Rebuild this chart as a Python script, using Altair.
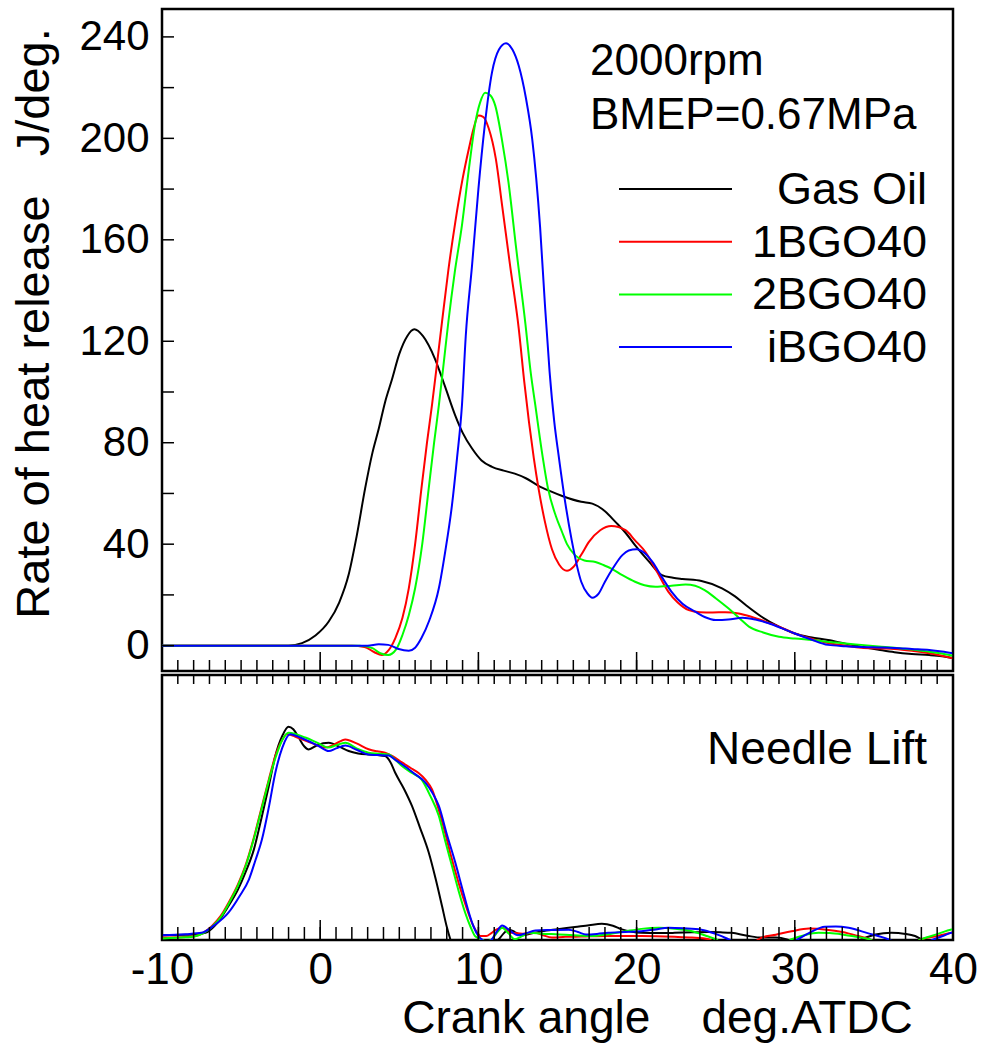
import altair as alt
import pandas as pd

# ---------------- data ----------------
series = ["Gas Oil", "1BGO40", "2BGO40", "iBGO40"]
colors = ["#000000", "#ff0000", "#00ff00", "#0000ff"]

# Rate of heat release (J/deg.) vs crank angle
hrr_gas_x = [-10, -4, -2.0, -1.15, -0.3, 0.54, 1.2, 1.8, 2.3, 2.84, 3.3, 3.7, 4.1, 4.54, 5.0, 5.5, 5.95, 6.5, 7.26, 7.9, 8.52, 9.0, 9.6, 10.2, 10.86, 11.6, 12.3, 13.0, 13.8, 14.5, 15.3, 16.5, 17.2, 18.0, 18.66, 19.3, 19.9, 20.8, 21.6, 22.3, 22.9, 24.1, 25.4, 26.2, 26.9, 27.9, 29.0, 30.0, 31.0, 32.1, 33.2, 34.2, 35.3, 36.3, 37.4, 38.5, 39.3, 40]
hrr_gas_y = [0, 0, 0, 1, 4, 9.5, 17, 28, 43, 62, 76, 85.5, 96, 105, 115, 122, 124.7, 122, 113, 102, 91, 84, 77.7, 73, 70.5, 69, 67.8, 66, 63, 61, 59, 56.7, 56, 53, 48.8, 44.5, 39.6, 33, 27.8, 26.8, 26.3, 25.5, 22.6, 19.5, 16, 11.4, 7.5, 4.8, 3.3, 2.2, 0.8, -0.4, -1.6, -2.6, -3.3, -3.7, -4.2, -5]

hrr_1b_x = [-10, 2.0, 2.8, 3.4, 3.9, 4.3, 4.75, 5.2, 5.6, 6.0, 6.4, 6.75, 7.07, 7.4, 7.7, 8.1, 8.54, 9.0, 9.4, 9.7, 10.0, 10.3, 10.65, 11.1, 11.5, 12.0, 12.55, 12.9, 13.2, 13.5, 13.8, 14.2, 14.65, 15.1, 15.6, 16.0, 16.5, 17.0, 17.7, 18.4, 19.3, 19.9, 20.55, 21.3, 22.0, 22.6, 23.3, 24.0, 24.8, 25.6, 26.45, 27.2, 27.9, 29.0, 30.0, 31.0, 32.1, 33.2, 34.2, 35.3, 36.3, 37.4, 38.5, 39.3, 40]
hrr_1b_y = [0, 0, -0.5, -2.5, -3.7, -2, 3, 11, 22.6, 40, 62, 80, 95, 112, 127.6, 148, 167, 184, 196, 204, 209, 208.5, 204, 192, 173.5, 150, 125, 104, 88, 74, 62, 49, 38, 32, 29.5, 31, 35.8, 41, 45.5, 47.2, 45.5, 41.5, 37, 29, 21.3, 17, 14, 13.2, 13.1, 13.2, 12.7, 11.5, 10, 7.5, 4.8, 2.8, 1, 0, -0.8, -1.1, -1.3, -2, -3, -4, -5]

hrr_2b_x = [-10, 2.5, 3.3, 3.8, 4.3, 4.8, 5.2, 5.6, 6.0, 6.45, 6.86, 7.2, 7.5, 7.8, 8.1, 8.5, 8.96, 9.4, 9.8, 10.1, 10.43, 10.75, 11.07, 11.5, 11.9, 12.4, 12.97, 13.3, 13.6, 14.0, 14.4, 14.9, 15.28, 15.6, 16.1, 16.7, 17.4, 18.0, 18.4, 19.1, 19.9, 20.5, 21.2, 22.2, 23.1, 23.7, 24.3, 25.0, 25.8, 26.5, 27.1, 28.0, 29.0, 30.0, 31.1, 32.6, 34.2, 35.3, 36.3, 37.4, 38.5, 39.3, 40]
hrr_2b_y = [0, 0, -1, -3, -3.7, -1.5, 4.2, 12, 22.6, 40, 62, 80, 94.7, 111, 127.6, 147, 165.7, 188, 206, 214, 218, 217, 212.8, 199, 182.7, 156, 127, 108, 94.7, 77, 62, 51, 44.9, 40, 35.7, 33.6, 33, 31.5, 30.4, 27.8, 25.2, 23.8, 23.2, 23.6, 24.1, 23.6, 21.9, 18.7, 14.7, 10.8, 7.5, 5.2, 3.5, 2.8, 2.2, 1.2, 0.3, -0.3, -0.8, -1.5, -2.4, -3.1, -4]

hrr_ib_x = [-10, 3.0, 3.7, 4.3, 4.9, 5.6, 6.0, 6.4, 6.9, 7.5, 7.9, 8.33, 8.65, 8.96, 9.2, 9.6, 10.0, 10.4, 10.86, 11.3, 11.75, 12.15, 12.55, 13.0, 13.4, 13.9, 14.2, 14.5, 14.8, 15.07, 15.5, 15.9, 16.5, 16.9, 17.2, 17.6, 18.0, 18.5, 19.1, 19.5, 20.0, 20.5, 21.0, 21.6, 22.2, 22.9, 23.7, 24.3, 25.0, 25.8, 26.7, 27.5, 28.35, 29.2, 30.0, 31.0, 32.1, 33.2, 34.2, 35.3, 36.3, 37.4, 38.5, 39.3, 40]
hrr_ib_y = [0, 0, 0.5, 0.3, -1.2, -2, -0.8, 3, 10, 22.6, 37, 55.4, 74, 94.7, 122, 150, 180, 205, 226, 235, 237.5, 235, 228.6, 216, 199.8, 165, 135, 108, 88, 75, 56, 41.5, 25.2, 20.5, 18.9, 20.5, 25.2, 30.5, 35.7, 37.5, 38, 36.5, 33, 27, 21.3, 16.5, 13.4, 11.3, 10.1, 10.3, 11, 10.3, 8.8, 6.8, 4.8, 2.5, 0.3, -0.2, -0.5, -0.7, -0.9, -1.3, -1.7, -2.3, -3]

# Needle lift (arbitrary units, 0..100 panel)
nl_gas_x = [-10, -8.5, -7.9, -7.26, -6.5, -5.8, -5.2, -4.73, -4.2, -3.68, -3.25, -2.84, -2.4, -2.0, -1.7, -1.36, -1.0, -0.73, -0.2, 0.54, 1.2, 1.8, 2.4, 3.06, 3.6, 4.1, 4.45, 4.75, 5.3, 5.8, 6.3, 6.86, 7.3, 7.7, 8.0, 8.23, 8.6, 10.5, 11.0, 11.28, 11.6, 11.9, 12.3, 12.75, 13.4, 14.0, 15.0, 16.1, 17.0, 17.8, 18.5, 19.07, 19.7, 20.3, 21.4, 22.4, 23.5, 24.5, 25.3, 26.0, 27.0, 27.9, 28.8, 29.5, 30.0, 33.5, 34.3, 35.1, 36.1, 37.0, 37.6, 38.0, 38.5, 40]
nl_gas_y = [1.8, 2, 2.1, 2.7, 6.5, 12.8, 19, 25.4, 34, 46.8, 58, 69.4, 77, 80.5, 79.5, 76.4, 73, 71.9, 73.5, 74.4, 73, 71.3, 70.4, 70, 69.8, 69.4, 67, 63, 57, 50.6, 42.5, 33, 23, 12.8, 5, 0.2, -5, -5, -1, 0.25, 2.5, 4.0, 3, 1.8, 2.5, 3.3, 4.1, 4.9, 5.6, 6.1, 5.4, 4, 3.1, 2.7, 2.6, 2.7, 2.9, 3.0, 2.9, 2.7, 1.6, 0.9, 0.9, 0.2, -1, -1, 0.5, 2.1, 2.7, 2.3, 1.5, 0.3, -1, -1]

nl_1b_x = [-10, -8.5, -7.9, -6.84, -6.3, -5.8, -5.2, -4.73, -4.2, -3.68, -3.25, -2.84, -2.4, -2.1, -1.6, -1.15, -0.4, 0.32, 0.9, 1.59, 2.3, 3.06, 3.6, 4.1, 4.6, 5.17, 5.7, 6.22, 6.65, 7.07, 7.5, 7.9, 8.3, 8.75, 9.2, 9.6, 10.0, 10.12, 10.5, 10.8, 11.1, 11.5, 12.1, 12.8, 13.6, 14.0, 14.65, 15.5, 16.5, 18.2, 20.3, 22.4, 23.5, 24.55, 25.0, 27.3, 27.9, 28.8, 29.8, 30.9, 32.0, 33.0, 34.0, 34.7, 35.2, 37.5, 38.0, 39.0, 39.9, 40]
nl_1b_y = [0.9, 1.1, 1.5, 5.3, 9, 14, 21, 28, 38.5, 50.6, 60.5, 69.4, 75.5, 77.6, 76.8, 75.7, 74, 72.6, 73.8, 75.7, 74.2, 72, 71.2, 70.7, 69.3, 67, 65, 63, 60.5, 56.8, 49, 40.4, 31, 21.5, 13, 6.4, 2.2, 1.5, 1.5, 2.5, 3.8, 4.6, 2.7, 2.4, 2.7, 2.0, 0.9, 1.2, 1.3, 1.5, 1.5, 1.2, 0.9, 0.3, -1, -1, 0.9, 2.0, 3.3, 4.3, 3.9, 3.0, 1.5, 0.3, -1, -1, 0.3, 1.5, 2.7, 2.8]

nl_2b_x = [-10, -8.5, -7.9, -6.84, -6.3, -5.8, -5.2, -4.73, -4.2, -3.68, -3.25, -2.84, -2.4, -2.0, -1.5, -0.94, -0.2, 0.54, 1.0, 1.59, 2.3, 3.06, 3.7, 4.33, 4.75, 5.17, 5.8, 6.4, 6.95, 7.5, 7.9, 8.33, 8.75, 9.17, 9.5, 9.8, 10.2, 10.5, 10.86, 11.2, 11.5, 11.9, 12.3, 12.8, 13.2, 14.0, 15.1, 16.0, 17.2, 18.2, 19.3, 20.3, 21.4, 22.4, 23.5, 24.3, 25.0, 25.4, 29.4, 29.8, 30.6, 31.5, 32.2, 33.0, 34.0, 34.7, 35.2, 37.5, 38.0, 39.0, 39.9, 40]
nl_2b_y = [0.6, 1.0, 1.4, 5.0, 8.5, 13.5, 20.5, 27.5, 38, 50, 60, 68.5, 75.5, 78.2, 77.6, 76.4, 74.5, 72.6, 73.5, 74.4, 72.3, 70.7, 70.3, 70, 68, 65.7, 63, 60.6, 54.5, 46.8, 37.5, 27.9, 18.5, 10.2, 5, 1.4, 0.2, -0.5, 0.3, 3, 4.6, 2.5, 0.3, 1.6, 2.7, 2.4, 2.1, 1.8, 1.5, 2.2, 3.3, 4.2, 4.6, 4.2, 3.3, 1.8, 0.3, -1, -1, 0.3, 1.8, 2.7, 2.6, 2.1, 1.1, 0.3, -1, -1, 0.3, 2.2, 4, 4.1]

nl_ib_x = [-10, -8.5, -7.5, -6.7, -5.8, -5.1, -4.5, -4.1, -3.68, -3.25, -2.84, -2.4, -1.9, -1.3, -0.73, -0.1, 0.54, 1.0, 1.59, 2.3, 3.06, 3.7, 4.33, 4.75, 5.17, 5.9, 6.65, 7.1, 7.5, 8.0, 8.54, 9.0, 9.4, 9.7, 10.0, 10.2, 10.5, 10.86, 11.2, 11.5, 12.0, 12.5, 13.0, 13.6, 14.6, 15.7, 16.3, 16.8, 17.5, 18.2, 19.3, 20.3, 21.2, 22.0, 23.0, 24.1, 25.0, 25.8, 26.3, 29.7, 30.2, 31.0, 31.9, 32.6, 33.4, 34.6, 35.9, 36.4, 38.3, 38.8, 39.4, 39.9, 40]
nl_ib_y = [1.8, 2.2, 2.7, 5.5, 10.3, 16.5, 22.9, 30, 38, 50, 63, 72.5, 77.6, 76.5, 75, 73.2, 71.3, 72.3, 73.4, 71.8, 70, 69.8, 69.6, 68, 66.3, 63, 59.4, 55.5, 50.6, 40, 29.2, 19, 10.3, 5, 1.5, 0.3, -1, 0.3, 3.5, 5.5, 3.5, 1.8, 2.5, 3.6, 3.8, 3.9, 3.0, 2.1, 2.3, 2.7, 3.0, 3.3, 4.0, 4.6, 4.4, 3.9, 2.3, 0.3, -1, -1, 0.3, 3.0, 5.0, 5.1, 4.6, 2.6, 0.3, -1, -1, 0.3, 1.6, 2.7, 2.8]

x_labels = [-10, 0, 10, 20, 30, 40]
x_minor = list(range(-10, 41))
y_labels = [0, 40, 80, 120, 160, 200, 240]
y_minor = [0, 20, 40, 60, 80, 100, 120, 140, 160, 180, 200, 220, 240]

# ---------------- tables ----------------
def table(pairs):
    frames = []
    for i, (xs, ys) in enumerate(pairs):
        frames.append(pd.DataFrame({"angle": xs, "value": ys, "fuel": series[i], "order": i}))
    return pd.concat(frames, ignore_index=True)

hrr = table([(hrr_gas_x, hrr_gas_y), (hrr_1b_x, hrr_1b_y), (hrr_2b_x, hrr_2b_y), (hrr_ib_x, hrr_ib_y)])
nl = table([(nl_gas_x, nl_gas_y), (nl_1b_x, nl_1b_y), (nl_2b_x, nl_2b_y), (nl_ib_x, nl_ib_y)])

FONT = "Liberation Sans"
W = 791
H1 = 662
H2 = 265

color_scale = alt.Scale(domain=series, range=colors)
x_scale = alt.Scale(domain=[-10, 40], nice=False, zero=False)

# ---------------- top panel ----------------
y_top = alt.Scale(domain=[-10, 251], nice=False, zero=False)

top_lines = alt.Chart(hrr).mark_line(clip=True, interpolate="monotone", strokeWidth=2).encode(
    x=alt.X("angle:Q", scale=x_scale, axis=None),
    y=alt.Y("value:Q", scale=y_top, axis=alt.Axis(
        values=y_labels, ticks=False, tickSize=0, domain=False, grid=False,
        labelFont=FONT, labelFontSize=42, labelColor="black", labelPadding=13,
        labelFlush=False,
        title="Rate of heat release\u00a0\u00a0\u00a0J/deg.", titleFont=FONT, titleFontSize=47,
        titleFontWeight="normal", titleColor="black", titleX=-128, titleY=314,
        titleBaseline="middle", titleAlign="center", titleAngle=270)),
    color=alt.Color("fuel:N", scale=color_scale, legend=None),
    order=alt.Order("order:Q"),
)

tick_df_x = pd.DataFrame({"angle": x_minor})
tick_df_xm = pd.DataFrame({"angle": x_labels})
tick_df_y = pd.DataFrame({"value": y_minor})

top_xminor = alt.Chart(tick_df_x).mark_rule(color="black", strokeWidth=1.5).encode(
    x=alt.X("angle:Q", scale=x_scale), y=alt.value(H1), y2=alt.value(H1 - 11))
top_xmajor = alt.Chart(tick_df_xm).mark_rule(color="black", strokeWidth=1.5).encode(
    x=alt.X("angle:Q", scale=x_scale), y=alt.value(H1), y2=alt.value(H1 - 19))
top_yticks = alt.Chart(tick_df_y).mark_rule(color="black", strokeWidth=1.5).encode(
    y=alt.Y("value:Q", scale=y_top), x=alt.value(0), x2=alt.value(12))

note_df = pd.DataFrame({"k": [0]})
note1 = alt.Chart(note_df).mark_text(font=FONT, fontSize=44, align="left", baseline="alphabetic", color="black").encode(
    x=alt.value(428), y=alt.value(66), text=alt.value("2000rpm"))
note2 = alt.Chart(note_df).mark_text(font=FONT, fontSize=44, align="left", baseline="alphabetic", color="black").encode(
    x=alt.value(428), y=alt.value(120), text=alt.value("BMEP=0.67MPa"))

legend_layers = []
for i, (name, col) in enumerate(zip(series, colors)):
    yy = 180 + 52.7 * i
    legend_layers.append(alt.Chart(note_df).mark_rule(color=col, strokeWidth=2).encode(
        x=alt.value(457), x2=alt.value(570), y=alt.value(yy)))
    legend_layers.append(alt.Chart(note_df).mark_text(font=FONT, fontSize=45, align="right", baseline="middle", color="black").encode(
        x=alt.value(765), y=alt.value(yy + 1), text=alt.value(name)))

top = alt.layer(top_lines, top_yticks, top_xminor, top_xmajor, note1, note2, *legend_layers).properties(
    width=W, height=H1)

# ---------------- bottom panel ----------------
y_bot = alt.Scale(domain=[0, 100], nice=False, zero=False)

bot_lines = alt.Chart(nl).mark_line(clip=True, interpolate="monotone", strokeWidth=2).encode(
    x=alt.X("angle:Q", scale=x_scale, axis=alt.Axis(
        values=x_labels, ticks=False, tickSize=0, domain=False, grid=False,
        labelExpr="'' + datum.value", labelFlush=False,
        labelFont=FONT, labelFontSize=44, labelColor="black", labelPadding=8,
        title="Crank angle\u00a0\u00a0\u00a0\u00a0deg.ATDC", titleFont=FONT, titleFontSize=46,
        titleFontWeight="normal", titleColor="black", titleX=495, titleY=92,
        titleBaseline="alphabetic", titleAlign="center")),
    y=alt.Y("value:Q", scale=y_bot, axis=None),
    color=alt.Color("fuel:N", scale=color_scale, legend=None),
    order=alt.Order("order:Q"),
)

bot_top_ticks = alt.Chart(tick_df_x).mark_rule(color="black", strokeWidth=1.5).encode(
    x=alt.X("angle:Q", scale=x_scale), y=alt.value(0), y2=alt.value(9))
bot_minor = alt.Chart(tick_df_x).mark_rule(color="black", strokeWidth=1.5).encode(
    x=alt.X("angle:Q", scale=x_scale), y=alt.value(H2), y2=alt.value(H2 - 13))
bot_major = alt.Chart(tick_df_xm).mark_rule(color="black", strokeWidth=1.5).encode(
    x=alt.X("angle:Q", scale=x_scale), y=alt.value(H2), y2=alt.value(H2 - 20))

needle = alt.Chart(note_df).mark_text(font=FONT, fontSize=46, align="right", baseline="alphabetic", color="black").encode(
    x=alt.value(765), y=alt.value(89), text=alt.value("Needle Lift"))

bottom = alt.layer(bot_lines, bot_top_ticks, bot_minor, bot_major, needle).properties(
    width=W, height=H2)

chart = alt.vconcat(top, bottom, spacing=0).properties(
    padding={"left": 8, "top": 7, "right": 4, "bottom": 4},
    background="white",
).configure_view(stroke="black", strokeWidth=2.5)

chart.save("out.html", embed_options={"renderer": "svg", "actions": False})
